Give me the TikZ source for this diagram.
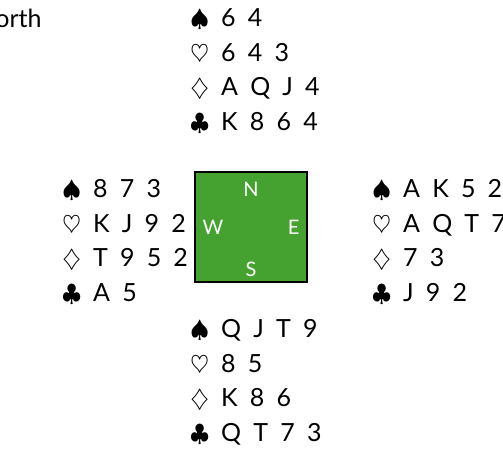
\documentclass[tikz,border=0pt]{standalone}
\usepackage{fontspec}
\setmainfont{Lato}
\newfontfamily\handfont[WordSpace=1.9]{Lato}
\usetikzlibrary{positioning}
\definecolor{felt}{RGB}{69,161,48}

\begin{document}
\begin{tikzpicture}[
x=0.5pt,y=-0.5pt,
hand/.style={align=left,inner sep=0pt,anchor=base west,font=\handfont\fontsize{12.5}{17.25}\selectfont},
seat/.style={text=white,inner sep=0pt,font=\fontsize{10}{12}\selectfont},
baize/.style={draw=black,line width=0.7pt,fill=felt,minimum width=56pt,minimum height=55pt,inner sep=0pt}
]
\useasboundingbox (0,0) rectangle (503,456);
\node[baize] (baize) at (251,227) {};
\node[seat] (n) [below=5pt of baize.north] {N};
\node[seat] (s) [above=3pt of baize.south] {S};
\node[seat] (w) [right=4pt of baize.west] {W};
\node[seat] (e) [left=4pt of baize.east] {E};

% base anchor = last line
\node[hand,anchor=base east] (label) at (42,27) {North};
\node[hand] (north) at (190,130) {$\spadesuit$ 6 4\\$\heartsuit$ 6 4 3\\$\diamondsuit$ A Q J 4\\$\clubsuit$ K 8 6 4};
\node[hand] (west) at (62,301) {$\spadesuit$ 8 7 3\\$\heartsuit$ K J 9 2\\$\diamondsuit$ T 9 5 2\\$\clubsuit$ A 5};
\node[hand] (east) at (372,301) {$\spadesuit$ A K 5 2\\$\heartsuit$ A Q T 7\\$\diamondsuit$ 7 3\\$\clubsuit$ J 9 2};
\node[hand] (south) at (190,441) {$\spadesuit$ Q J T 9\\$\heartsuit$ 8 5\\$\diamondsuit$ K 8 6\\$\clubsuit$ Q T 7 3};
\end{tikzpicture}
\end{document}
